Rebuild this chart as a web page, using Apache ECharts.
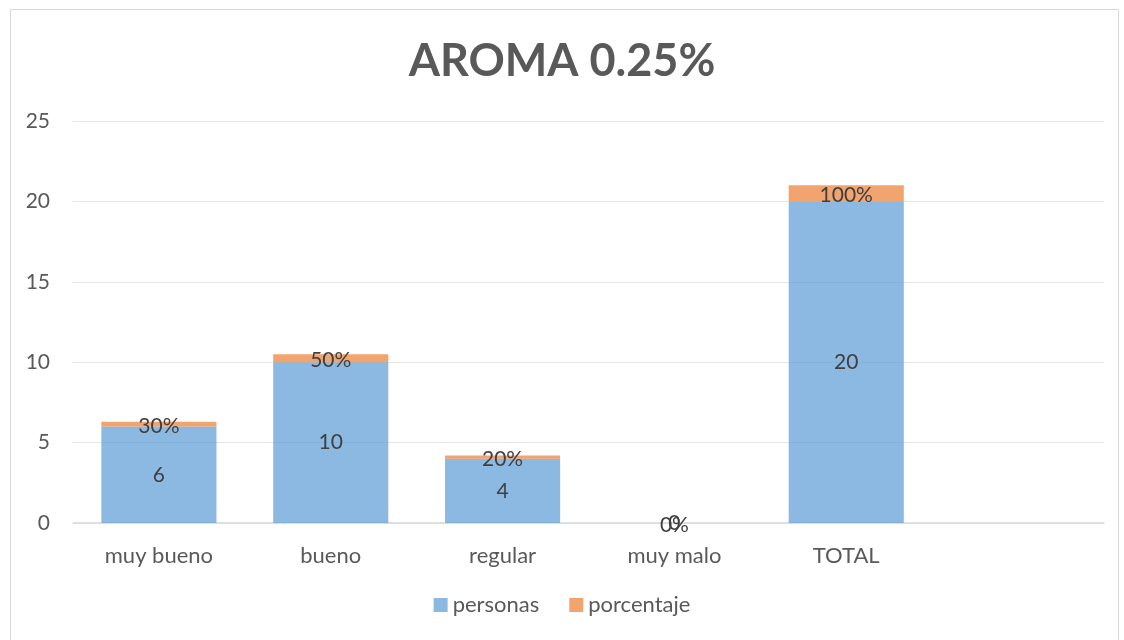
<!DOCTYPE html>
<html>
<head>
<meta charset="utf-8">
<script src="https://cdn.jsdelivr.net/npm/echarts@6/dist/echarts.min.js"></script>
<style>
html,body{margin:0;padding:0;background:#fff;}
#chart{width:1124px;height:640px;}
</style>
</head>
<body>
<div id="chart"></div>
<script>
const categories = ['muy bueno', 'bueno', 'regular', 'muy malo', 'TOTAL', ''];
const personas = [6, 10, 4, 0, 20, null];
const porcentaje = [0.3, 0.5, 0.2, 0, 1.0, null];
const yTicks = { min: 0, max: 25, interval: 5 };

const FONT = 'Lato';
const chart = echarts.init(document.getElementById('chart'));
chart.setOption({
  backgroundColor: '#fff',
  animation: false,
  title: {
    text: 'AROMA 0.25%',
    left: 'center',
    top: 34,
    textStyle: { fontFamily: FONT, fontWeight: 'bold', fontSize: 45, color: '#595959' }
  },
  graphic: [{
    type: 'rect',
    shape: { x: 10.5, y: 9.5, width: 1108, height: 640 },
    style: { fill: 'none', stroke: '#d9d9d9', lineWidth: 1 },
    silent: true
  }],
  legend: {
    bottom: 19,
    left: 'center',
    itemWidth: 14,
    itemHeight: 14,
    itemGap: 30,
    icon: 'rect',
    textStyle: { fontFamily: FONT, fontSize: 22, color: '#595959' },
    data: ['personas', 'porcentaje']
  },
  grid: { left: 73, right: 20, top: 121, bottom: 117 },
  xAxis: {
    type: 'category',
    data: categories,
    axisLine: { lineStyle: { color: '#d9d9d9', width: 1.5 } },
    axisTick: { show: false },
    axisLabel: { fontFamily: FONT, fontSize: 22, color: '#595959', margin: 22 }
  },
  yAxis: {
    type: 'value',
    min: yTicks.min, max: yTicks.max, interval: yTicks.interval,
    axisLine: { show: false },
    axisTick: { show: false },
    splitLine: { lineStyle: { color: '#e6e6e6', width: 1 } },
    axisLabel: { fontFamily: FONT, fontSize: 21, color: '#595959', margin: 23, align: 'right' }
  },
  series: [
    {
      name: 'personas',
      type: 'bar',
      stack: 's',
      data: personas,
      barWidth: '67%',
      itemStyle: { color: 'rgba(91,155,213,0.7)' },
      label: {
        show: true, position: 'inside',
        fontFamily: FONT, fontSize: 21, color: '#404040'
      }
    },
    {
      name: 'porcentaje',
      type: 'bar',
      stack: 's',
      data: porcentaje,
      barWidth: '67%',
      itemStyle: { color: 'rgba(237,125,49,0.7)' },
      label: {
        show: true, position: 'inside', offset: [0, 2],
        fontFamily: FONT, fontSize: 21, color: '#404040',
        formatter: p => Math.round(p.value * 100) + '%'
      }
    }
  ]
});
</script>
</body>
</html>
